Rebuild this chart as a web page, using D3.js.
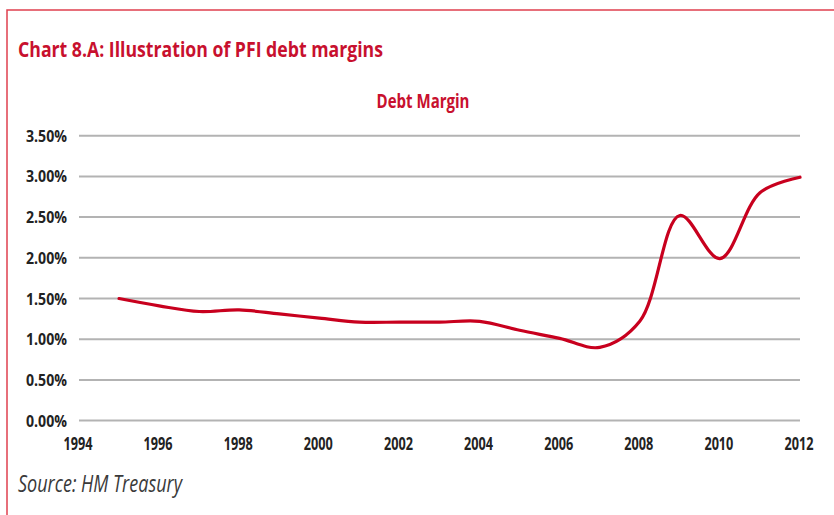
<!DOCTYPE html>
<html>
<head>
<meta charset="utf-8">
<script src="https://cdn.jsdelivr.net/npm/d3@7"></script>
<style>
  body { margin: 0; background: #fff; }
  svg { display: block; font-family: "Open Sans", sans-serif; }
</style>
</head>
<body>
<div id="chart"></div>
<script>
const years = [1995, 1996, 1997, 1998, 1999, 2000, 2001, 2002, 2003, 2004, 2005, 2006, 2007, 2008, 2009, 2010, 2011, 2012];
const debtMargin = [1.50, 1.41, 1.34, 1.36, 1.31, 1.26, 1.21, 1.21, 1.21, 1.22, 1.11, 1.01, 0.90, 1.22, 2.52, 1.99, 2.80, 2.99];
const yTicks = [0, 0.5, 1, 1.5, 2, 2.5, 3, 3.5];
const xTicks = [1994, 1996, 1998, 2000, 2002, 2004, 2006, 2008, 2010, 2012];

const W = 834, H = 515;
const red = "#c8102e";

const svg = d3.select("#chart").append("svg")
  .attr("width", W).attr("height", H);

// frame
svg.append("path")
  .attr("d", `M7,${H} V10 H${W}`)
  .attr("fill", "none")
  .attr("stroke", "#e0404f")
  .attr("stroke-width", 1.5);

// title, squeezed to the condensed width of the original
svg.append("text")
  .attr("x", 18).attr("y", 57)
  .attr("fill", red)
  .attr("font-size", 21)
  .attr("font-weight", "bold")
  .attr("textLength", 365)
  .attr("lengthAdjust", "spacingAndGlyphs")
  .text("Chart 8.A: Illustration of PFI debt margins");

svg.append("text")
  .attr("x", 423).attr("y", 108)
  .attr("text-anchor", "middle")
  .attr("fill", red)
  .attr("font-size", 19)
  .attr("font-weight", "bold")
  .attr("textLength", 93)
  .attr("lengthAdjust", "spacingAndGlyphs")
  .text("Debt Margin");

const x = d3.scaleLinear().domain([1994, 2012]).range([79, 800]);
const y = d3.scaleLinear().domain([0, 3.5]).range([420.6, 135.7]);

// gridlines
svg.append("g")
  .selectAll("line")
  .data(yTicks)
  .join("line")
  .attr("x1", x(1994)).attr("x2", x(2012))
  .attr("y1", d => y(d)).attr("y2", d => y(d))
  .attr("stroke", "#b3b3b3")
  .attr("stroke-width", 2);

// y labels
svg.append("g")
  .selectAll("text")
  .data(yTicks)
  .join("text")
  .attr("x", 67).attr("y", d => y(d) + 6)
  .attr("text-anchor", "end")
  .attr("font-size", 16)
  .attr("font-weight", "bold")
  .attr("fill", "#222")
  .attr("textLength", 41)
  .attr("lengthAdjust", "spacingAndGlyphs")
  .text(d => d3.format(".2f")(d) + "%");

// x labels
svg.append("g")
  .selectAll("text")
  .data(xTicks)
  .join("text")
  .attr("x", d => x(d) - 1).attr("y", 450)
  .attr("text-anchor", "middle")
  .attr("font-size", 17)
  .attr("font-weight", "bold")
  .attr("fill", "#222")
  .attr("textLength", 29)
  .attr("lengthAdjust", "spacingAndGlyphs")
  .text(d => d);

const line = d3.line()
  .x((d, i) => x(years[i]))
  .y(d => y(d))
  .curve(d3.curveCatmullRom.alpha(0.5));

svg.append("path")
  .datum(debtMargin)
  .attr("d", line)
  .attr("fill", "none")
  .attr("stroke", "#c8001e")
  .attr("stroke-width", 3.2)
  .attr("stroke-linecap", "round");

svg.append("text")
  .attr("x", 18).attr("y", 492)
  .attr("fill", "#3a3a3a")
  .attr("font-size", 23)
  .attr("font-style", "italic")
  .attr("textLength", 164)
  .attr("lengthAdjust", "spacingAndGlyphs")
  .text("Source: HM Treasury");
</script>
</body>
</html>
